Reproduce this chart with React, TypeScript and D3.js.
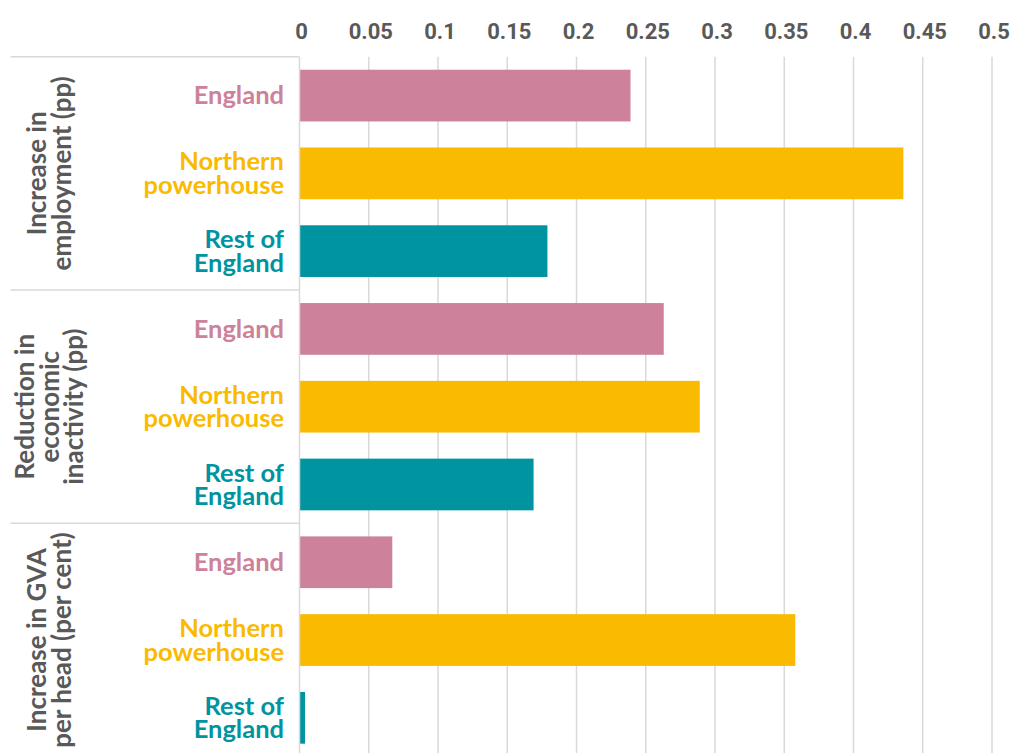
import React, { useEffect } from "react";
import * as d3 from "d3";

const groups = [
  ["Increase in", "employment (pp)"],
  ["Reduction in", "economic", "inactivity (pp)"],
  ["Increase in GVA", "per head (per cent)"],
];
const regions = ["England", "Northern powerhouse", "Rest of England"];
const regionLines = [["England"], ["Northern", "powerhouse"], ["Rest of", "England"]];
const regionColors = ["#CD819B", "#FABA00", "#0093A0"];
const employment = [0.239, 0.436, 0.179];
const inactivity = [0.263, 0.289, 0.169];
const gva = [0.067, 0.358, 0.004];
const tickValues = [0, 0.05, 0.1, 0.15, 0.2, 0.25, 0.3, 0.35, 0.4, 0.45, 0.5];
const tickLabels = ["0", "0.05", "0.1", "0.15", "0.2", "0.25", "0.3", "0.35", "0.4", "0.45", "0.5"];

const W = 1015;
const H = 753;

export default function App() {
  useEffect(() => {
    document.body.style.margin = "0";
  }, []);

  const seriesByGroup = [employment, inactivity, gva];
  const rows: { key: string; g: number; r: number; v: number }[] = [];
  seriesByGroup.forEach((s, g) =>
    s.forEach((v, r) => rows.push({ key: `${g}-${r}`, g, r, v }))
  );

  const x = d3.scaleLinear().domain([0, 0.5]).range([299.5, 992]);
  const top = 56.7;
  const bottom = 756.7;
  const y = d3
    .scaleBand<string>()
    .domain(rows.map((d) => d.key))
    .range([top, bottom])
    .paddingInner(0.335)
    .paddingOuter(0.1675);
  const step = y.step();
  const groupH = step * 3;

  const grid = "#d9d9d9";
  const labelFont = "Lato, 'Open Sans', sans-serif";

  return (
    <svg
      width={W}
      height={H}
      style={{ display: "block", position: "absolute", left: 0, top: 0, background: "#fff" }}
    >
      {/* gridlines */}
      {tickValues.slice(1).map((t) => (
        <line key={t} x1={x(t)} x2={x(t)} y1={top} y2={H} stroke={grid} strokeWidth={1.5} />
      ))}
      {/* tick labels */}
      {tickValues.map((t, i) => (
        <text
          key={"l" + t}
          x={x(t) + 2}
          y={39}
          textAnchor="middle"
          fontFamily="Roboto, sans-serif"
          fontWeight={700}
          fontSize={22}
          fill="#595959"
        >
          {tickLabels[i]}
        </text>
      ))}
      {/* bars */}
      {rows.map((d) => (
        <rect
          key={d.key}
          x={x(0)}
          y={y(d.key)}
          width={x(d.v) - x(0)}
          height={y.bandwidth()}
          fill={regionColors[d.r]}
        />
      ))}
      {/* axis line */}
      <line x1={x(0)} x2={x(0)} y1={top} y2={H} stroke={grid} strokeWidth={1.5} />
      {/* group separators */}
      {[0, 1, 2, 3].map((g) => (
        <line
          key={"s" + g}
          x1={10.5}
          x2={x(0)}
          y1={top + g * groupH}
          y2={top + g * groupH}
          stroke={grid}
          strokeWidth={1.5}
        />
      ))}
      {/* category labels */}
      {rows.map((d) => {
        const cy = (y(d.key) as number) + y.bandwidth() / 2;
        const lines = regionLines[d.r];
        const lh = 23.5;
        const base = cy + 8.8 - ((lines.length - 1) * lh) / 2;
        return lines.map((ln, i) => (
          <text
            key={`c${d.key}-${i}`}
            x={284}
            y={base + i * lh}
            textAnchor="end"
            fontFamily={labelFont}
            fontWeight={700}
            fontSize={25.5}
            fill={regionColors[d.r]}
          >
            {ln}
          </text>
        ));
      })}
      {/* group labels */}
      {groups.map((lines, g) => {
        const cy = top + g * groupH + groupH / 2;
        const lh = 24.5;
        const cx = 50;
        return lines.map((ln, i) => {
          const bx = cx + 8.5 + (i - (lines.length - 1) / 2) * lh;
          return (
            <text
              key={`g${g}-${i}`}
              transform={`translate(${bx},${cy}) rotate(-90)`}
              textAnchor="middle"
              fontFamily={labelFont}
              fontWeight={700}
              fontSize={26}
              fill="#595959"
            >
              {ln}
            </text>
          );
        });
      })}
    </svg>
  );
}
